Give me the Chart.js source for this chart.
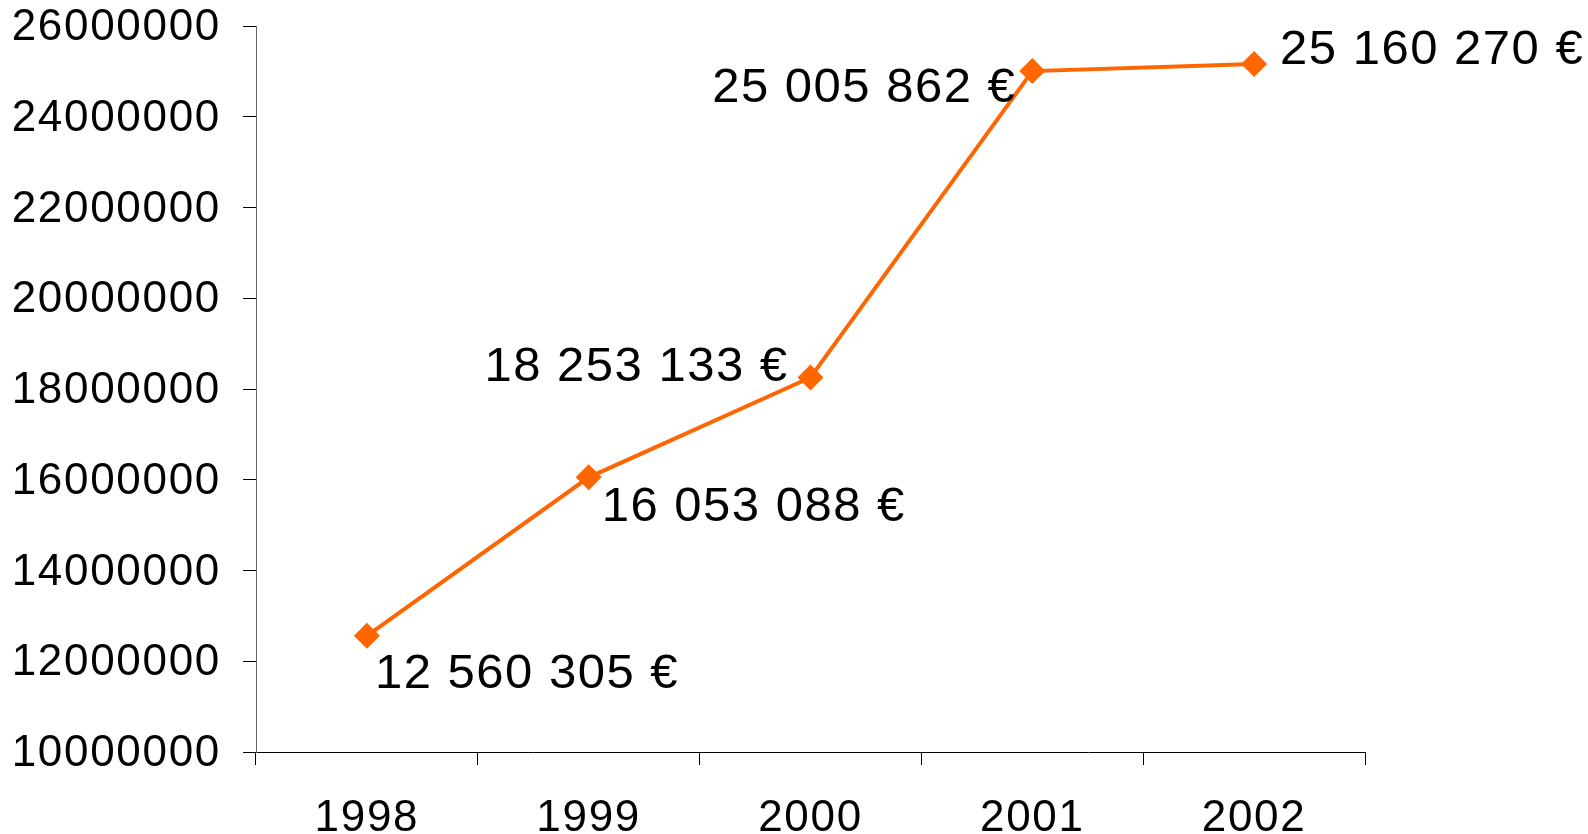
<!DOCTYPE html>
<html><head><meta charset="utf-8">
<script src="https://cdn.jsdelivr.net/npm/chart.js@4.4.1/dist/chart.umd.min.js"></script>
<style>
html,body{margin:0;padding:0;background:#fff;overflow:hidden}
#wrap{width:1588px;height:834px;position:relative}
</style></head>
<body><div id="wrap"><canvas id="c"></canvas></div>
<script>
// ---- data ----
const years = ['1998', '1999', '2000', '2001', '2002'];
const revenue = [12560305, 16053088, 18253133, 25005862, 25160270];
const yMin = 10000000;
const yMax = 26000000;
const yStep = 2000000;
// label anchor (left/right of text) and shift from its point, px
const labelAlign = ['left', 'left', 'right', 'right', 'left'];
const labelShift = [[8, 39], [13, 30], [-22, -10], [-16, 17], [26, -14]];

function euro(v) {
  return String(v).replace(/\B(?=(\d{3})+(?!\d))/g, ' ') + ' €';
}

const FONT = '"Liberation Sans", Arial, sans-serif';
const AXIS_SPACING = '1.7px';

const spacingPlugin = {
  id: 'spacing',
  beforeUpdate(chart) { chart.ctx.letterSpacing = AXIS_SPACING; },
  beforeLayout(chart) { chart.ctx.letterSpacing = AXIS_SPACING; },
  beforeDraw(chart) { chart.ctx.letterSpacing = AXIS_SPACING; }
};

const valueLabels = {
  id: 'valueLabels',
  afterDatasetsDraw(chart) {
    const ctx = chart.ctx;
    const meta = chart.getDatasetMeta(0);
    ctx.save();
    ctx.font = '49px ' + FONT;
    ctx.letterSpacing = '1.5px';
    ctx.fillStyle = '#000';
    ctx.textBaseline = 'middle';
    meta.data.forEach((pt, i) => {
      ctx.textAlign = labelAlign[i];
      ctx.fillText(euro(revenue[i]), pt.x + labelShift[i][0], pt.y + labelShift[i][1]);
    });
    ctx.restore();
  }
};

new Chart(document.getElementById('c'), {
  type: 'line',
  data: {
    labels: years,
    datasets: [{
      data: revenue,
      borderColor: '#FF6600',
      backgroundColor: '#FF6600',
      borderWidth: 4,
      tension: 0,
      fill: false,
      pointStyle: 'rectRot',
      pointRadius: 13,
      pointHoverRadius: 13,
      pointBackgroundColor: '#FF6600',
      pointBorderWidth: 0
    }]
  },
  options: {
    responsive: true,
    maintainAspectRatio: false,
    devicePixelRatio: 1,
    animation: false,
    events: [],
    layout: { padding: { top: 26, right: 223, left: 0, bottom: 0 }, autoPadding: false },
    plugins: { legend: { display: false }, tooltip: { enabled: false } },
    scales: {
      x: {
        type: 'category',
        offset: true,
        grid: { offset: true, drawOnChartArea: false, drawTicks: true, tickLength: 13, color: '#000', lineWidth: 1 },
        border: { color: '#000', width: 1 },
        ticks: { font: { family: FONT, size: 44 }, color: '#000', padding: 27, maxRotation: 0, autoSkip: false },
        afterFit(s) { s.height = 82; s.paddingLeft = 0; s.paddingRight = 0; }
      },
      y: {
        min: yMin,
        max: yMax,
        grid: { drawOnChartArea: false, drawTicks: true, tickLength: 13, color: '#000', lineWidth: 1 },
        border: { color: '#666', width: 1 },
        ticks: {
          stepSize: yStep,
          font: { family: FONT, size: 44 },
          color: '#000',
          padding: 22,
          labelOffset: 2,
          callback: v => String(v)
        },
        afterFit(s) { s.width = 256; s.paddingTop = 0; s.paddingBottom = 0; }
      }
    }
  },
  plugins: [spacingPlugin, valueLabels]
});
</script>
</body></html>
